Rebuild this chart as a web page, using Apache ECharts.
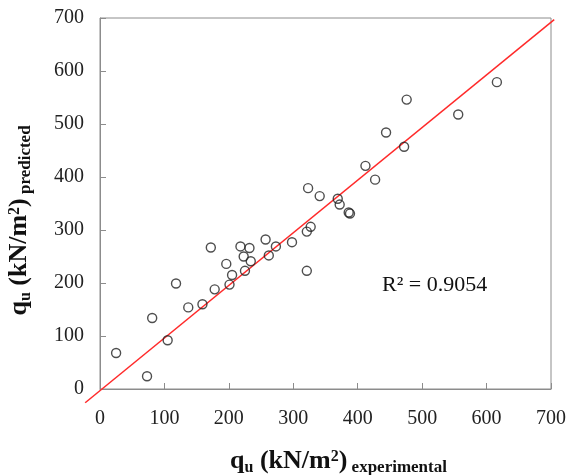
<!DOCTYPE html>
<html>
<head>
<meta charset="utf-8">
<script src="https://cdn.jsdelivr.net/npm/echarts@6/dist/echarts.min.js"></script>
<style>
  html, body { margin: 0; padding: 0; background: #fff; }
  #chart { width: 567px; height: 475px; }
</style>
</head>
<body>
<div id="chart"></div>
<script>
  // measured vs predicted qu (kN/m2)
  const experimental = [25, 73, 81, 105, 118, 137, 159, 178, 172, 196, 201, 205, 218, 232, 223, 234, 225,
    257, 262, 273, 298, 321, 327, 321, 323, 341, 369, 372, 386, 388, 427, 412, 444, 472, 476, 556, 616];
  const predicted = [68, 24, 134, 92, 199, 154, 160, 188, 267, 236, 197, 215, 269, 266, 250, 241, 223,
    282, 252, 269, 277, 297, 306, 223, 379, 364, 359, 348, 333, 331, 395, 421, 484, 457, 546, 518, 579];
  // trend line end points
  const trendX = [-23, 705];
  const trendY = [-26, 697];
  const axisTicks = [0, 100, 200, 300, 400, 500, 600, 700];
  const r2Label = 'R² = 0.9054';

  const points = experimental.map((x, i) => [x, predicted[i]]);
  const serif = '"Liberation Serif", "DejaVu Serif", serif';

  const nameRich = {
    b: { fontFamily: serif, fontSize: 26, fontWeight: 'bold', color: '#111' },
    sub: { fontFamily: serif, fontSize: 16, fontWeight: 'bold', color: '#111', padding: [12, 0, 0, 0] },
    sup: { fontFamily: serif, fontSize: 16, fontWeight: 'bold', color: '#111', padding: [0, 0, 10, 0] },
    s: { fontFamily: serif, fontSize: 17, fontWeight: 'bold', color: '#111', padding: [12, 0, 0, 0] },
  };

  const axisCommon = {
    type: 'value',
    min: axisTicks[0],
    max: axisTicks[axisTicks.length - 1],
    interval: 100,
    splitLine: { show: false },
    axisLine: { show: true, lineStyle: { color: '#8c8c8c', width: 1 } },
    axisTick: { show: true, inside: true, length: 6, lineStyle: { color: '#8c8c8c' } },
    axisLabel: { fontFamily: serif, fontSize: 20, color: '#222' },
    nameLocation: 'middle',
  };

  const myChart = echarts.init(document.getElementById('chart'));
  myChart.setOption({
    backgroundColor: '#fff',
    animation: false,
    grid: {
      left: 100, right: 16, top: 18, bottom: 86,
      outerBoundsMode: 'none',
      show: true, borderColor: '#8c8c8c', borderWidth: 1,
    },
    xAxis: Object.assign({}, axisCommon, {
      name: '{b|q}{sub|u}{b| (kN/m}{sup|2}{b|)}{s| experimental}',
      nameGap: 58,
      nameTextStyle: { rich: nameRich, padding: [0, 0, 0, 26] },
      axisLabel: Object.assign({}, axisCommon.axisLabel, { margin: 20 }),
    }),
    yAxis: Object.assign({}, axisCommon, {
      name: '{b|q}{sub|u}{b| (kN/m}{sup|2}{b|)}{s| predicted}',
      nameGap: 66,
      nameTextStyle: { rich: nameRich, padding: [0, 34, 0, 0] },
      axisLabel: Object.assign({}, axisCommon.axisLabel, { margin: 16 }),
    }),
    series: [
      {
        type: 'scatter',
        data: points,
        symbol: 'circle',
        symbolSize: 9,
        itemStyle: { color: 'rgba(255,255,255,0)', borderColor: '#222', borderWidth: 1.4 },
        z: 3,
      },
    ],
  });

  // trend line runs a little past the plot box, so draw it through the axis scales
  const p0 = myChart.convertToPixel({ gridIndex: 0 }, [trendX[0], trendY[0]]);
  const p1 = myChart.convertToPixel({ gridIndex: 0 }, [trendX[1], trendY[1]]);
  myChart.setOption({
    graphic: [
      {
        type: 'line',
        shape: { x1: p0[0], y1: p0[1], x2: p1[0], y2: p1[1] },
        style: { stroke: '#ff2a2a', lineWidth: 1.5 },
        z: 1,
      },
      {
        type: 'text',
        left: 382,
        top: 274,
        style: { text: r2Label, font: '22px ' + serif, fill: '#111' },
      },
    ],
  });
</script>
</body>
</html>
